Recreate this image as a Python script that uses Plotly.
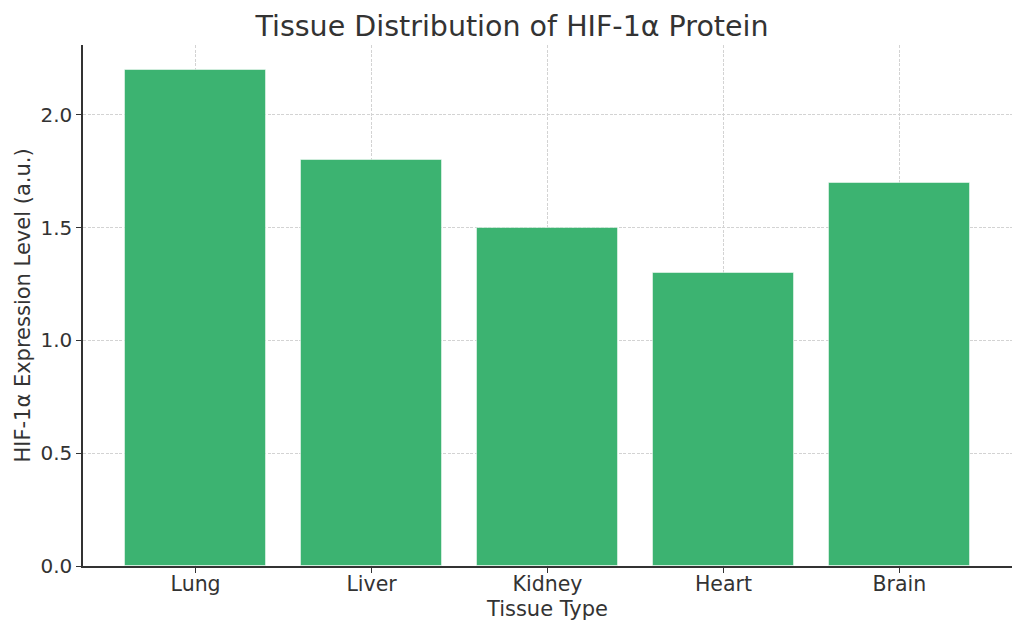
import plotly.graph_objects as go

tissues = ["Lung", "Liver", "Kidney", "Heart", "Brain"]
expression = [2.2, 1.8, 1.5, 1.3, 1.7]
y_ticks = [0.0, 0.5, 1.0, 1.5, 2.0]

fig = go.Figure()
fig.add_trace(go.Bar(
    x=list(range(len(tissues))),
    y=expression,
    width=0.8,
    marker=dict(color="#3CB371", line=dict(color="rgba(255,255,255,0.5)", width=1)),
))

text_col = "#333333"
fig.update_layout(
    width=1024, height=635,
    margin=dict(l=83, r=12, t=45, b=69),
    paper_bgcolor="white", plot_bgcolor="white",
    font=dict(family="DejaVu Sans", size=20, color=text_col),
    title=dict(text="Tissue Distribution of HIF-1α Protein", x=0.5, xanchor="center",
               y=1 - 26 / 635, yanchor="middle", font=dict(size=28.5, color=text_col)),
    showlegend=False,
    bargap=0,
)
fig.update_xaxes(
    range=[-0.64, 4.64],
    tickmode="array", tickvals=list(range(len(tissues))), ticktext=tissues,
    tickfont=dict(size=20.5), ticklabelstandoff=-6,
    showline=True, linecolor=text_col, linewidth=1.5,
    ticks="outside", ticklen=5, tickcolor=text_col,
    showgrid=True, gridcolor="#d3d3d3", griddash="3px,1.5px", gridwidth=1,
    layer="above traces", zeroline=False,
    title=dict(text="Tissue Type", font=dict(size=21), standoff=6),
)
fig.update_yaxes(
    range=[0, 2.31],
    tickmode="array", tickvals=y_ticks, ticktext=[f"{v:.1f}" for v in y_ticks],
    showline=True, linecolor=text_col, linewidth=1.5,
    ticks="outside", ticklen=5, tickcolor=text_col,
    showgrid=True, gridcolor="#d3d3d3", griddash="3px,1.5px", gridwidth=1,
    layer="above traces", zeroline=False,
    title=dict(text="HIF-1α Expression Level (a.u.)", font=dict(size=21), standoff=4),
)

fig.write_html("out.html", config={"displayModeBar": False},
               post_script="document.body.style.margin='0';")
